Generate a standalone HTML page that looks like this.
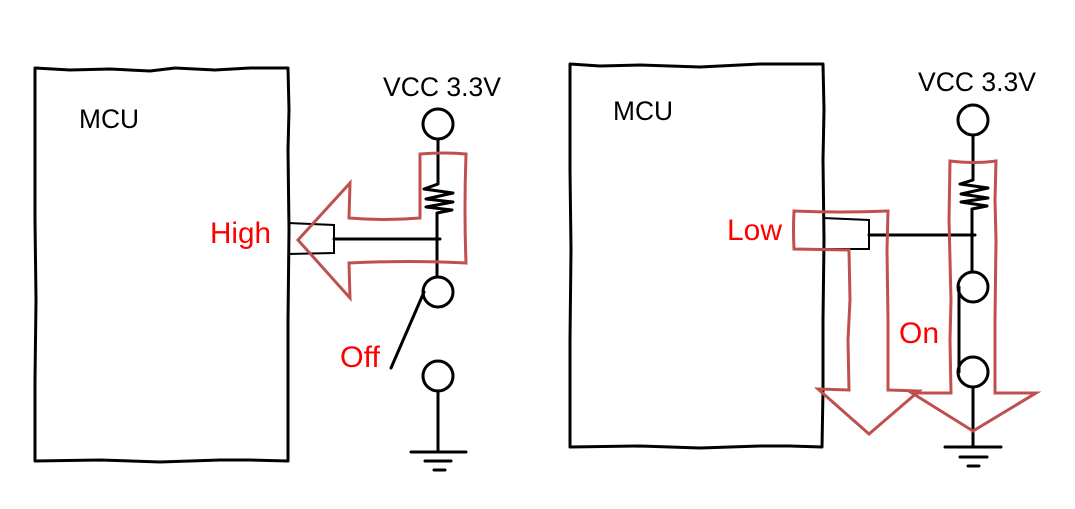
<!DOCTYPE html>
<html><head><meta charset="utf-8">
<style>
html,body{margin:0;padding:0;background:#fff;width:1075px;height:509px;overflow:hidden}
svg{display:block}
text{font-family:"Liberation Sans",sans-serif;font-size:27px}
.l{font-size:30px}
.k{fill:none;stroke:#000;stroke-width:3;stroke-linejoin:round;stroke-linecap:round}
.t{fill:none;stroke:#000;stroke-width:2}
.r{fill:none;stroke:#c05050;stroke-width:3;stroke-linejoin:miter}
</style></head><body>
<svg width="1075" height="509" viewBox="0 0 1075 509" xmlns="http://www.w3.org/2000/svg">
<!-- LEFT -->
<path class="k" d="M35 68L70 70L110 69L150 71L175 68L215 70L250 68L288 68L289 110L288 150L289 230L288 320L288 400L288 461L250 460L220 460L160 462L100 460L35 461L35 420L35 380L36 300L35 220L35 140Z"/>
<text x="79" y="128" fill="#000" textLength="60" lengthAdjust="spacingAndGlyphs">MCU</text>
<text x="383" y="96" fill="#000" textLength="118" lengthAdjust="spacingAndGlyphs">VCC 3.3V</text>
<text class="l" x="210" y="243" fill="#f00" textLength="61" lengthAdjust="spacingAndGlyphs">High</text>
<text class="l" x="340" y="367" fill="#f00" textLength="40" lengthAdjust="spacingAndGlyphs">Off</text>
<path class="t" d="M288 223L334 225V253L288 254"/>
<path class="k" d="M334 239H440"/>
<circle class="k" cx="438" cy="124" r="15"/>
<path class="k" d="M438 139V184L424 189L453 193L426 199L453 202L426 207L452 210L437 213V277"/>
<circle class="k" cx="438" cy="292" r="15"/>
<path class="k" d="M424 292L391 368"/>
<circle class="k" cx="438" cy="376" r="15"/>
<path class="k" d="M438 391V452M411 452H466M425 461H451M434 470H445"/>
<path class="r" d="M420 154Q445 152 466 154Q464 210 466 263Q410 260 349 263L350 298L298 240L350 183L349 218Q385 221 420 218Z"/>
<!-- RIGHT -->
<path class="k" d="M570 64L600 66L640 65L700 67L760 64L823 64L824 110L823 160L824 240L823 320L823 390L822 447L790 446L760 446L700 448L640 446L570 447L570 400L570 340L571 250L570 170Z"/>
<text x="613" y="120" fill="#000" textLength="60" lengthAdjust="spacingAndGlyphs">MCU</text>
<text x="918" y="91" fill="#000" textLength="118" lengthAdjust="spacingAndGlyphs">VCC 3.3V</text>
<text class="l" x="727" y="240" fill="#f00" textLength="55" lengthAdjust="spacingAndGlyphs">Low</text>
<text class="l" x="899" y="343" fill="#f00" textLength="40" lengthAdjust="spacingAndGlyphs">On</text>
<path class="t" d="M823 218L869 220V249L823 249"/>
<path class="k" d="M869 235H975"/>
<circle class="k" cx="973" cy="120" r="15"/>
<path class="k" d="M973 135V180L960 184L988 188L961 194L988 198L961 202L987 206L972 209V272"/>
<circle class="k" cx="973" cy="287" r="15"/>
<path class="k" d="M959 287V372"/>
<circle class="k" cx="973" cy="372" r="15"/>
<path class="k" d="M973 387V447M945 447H1001M960 457H987M968 466H979"/>
<path class="r" d="M794 211Q840 213 888 211L887 250L888 320L888 390L919 391L869 434L818 389L849 390L848 340L850 300L849 250L794 249Q793 230 794 211Z"/>
<path class="r" d="M950 161Q975 164 996 161L995 200L996 240L995 320L995 393L1036 393L973 431L912 393L951 393L950 340L951 300L949 220Z"/>
</svg>
</body></html>
